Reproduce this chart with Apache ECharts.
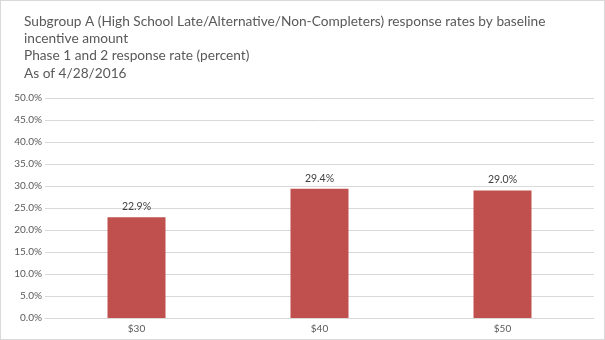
<!DOCTYPE html>
<html><head><meta charset="utf-8">
<script src="https://cdn.jsdelivr.net/npm/echarts@6/dist/echarts.min.js"></script>
<style>
html,body{margin:0;padding:0;background:#fff;}
#c{width:603px;height:338px;border:1px solid #d9d9d9;}
</style></head>
<body><div id="c"></div>
<script>
const titleLines = [
  "Subgroup A (High School Late/Alternative/Non-Completers) response rates by baseline",
  "incentive amount",
  "Phase 1 and 2 response rate (percent)",
  "As of 4/28/2016"
];
const categories = ["$30", "$40", "$50"];
const responseRates = [0.229, 0.294, 0.290];
const axisMin = 0, axisMax = 0.5, axisInterval = 0.05;

const chart = echarts.init(document.getElementById('c'));
chart.setOption({
  animation: false,
  backgroundColor: '#fff',
  title: {
    text: titleLines.join('\n'),
    left: 18, top: 7,
    textStyle: {fontFamily: 'Lato', fontSize: 13.7, fontWeight: 'normal', color: '#595959', lineHeight: 17.2}
  },
  grid: {left: 44, right: 10, top: 97, bottom: 21},
  xAxis: {
    type: 'category', data: categories,
    axisLine: {lineStyle: {color: '#d9d9d9'}},
    axisTick: {show: false},
    axisLabel: {fontFamily: 'Lato', fontSize: 10, color: '#595959', margin: 6}
  },
  yAxis: {
    type: 'value', min: axisMin, max: axisMax, interval: axisInterval,
    axisLine: {show: false}, axisTick: {show: false},
    splitLine: {lineStyle: {color: '#d9d9d9'}},
    axisLabel: {fontFamily: 'Lato', fontSize: 10, color: '#595959', margin: 3,
      formatter: v => (v*100).toFixed(1) + '%'}
  },
  series: [{
    type: 'bar', data: responseRates, barWidth: 58,
    itemStyle: {color: '#c0504d'},
    label: {show: true, position: 'top', distance: 5, fontFamily: 'Lato', fontSize: 10.5, color: '#404040',
      formatter: p => (p.value*100).toFixed(1) + '%'}
  }]
});
</script></body></html>
